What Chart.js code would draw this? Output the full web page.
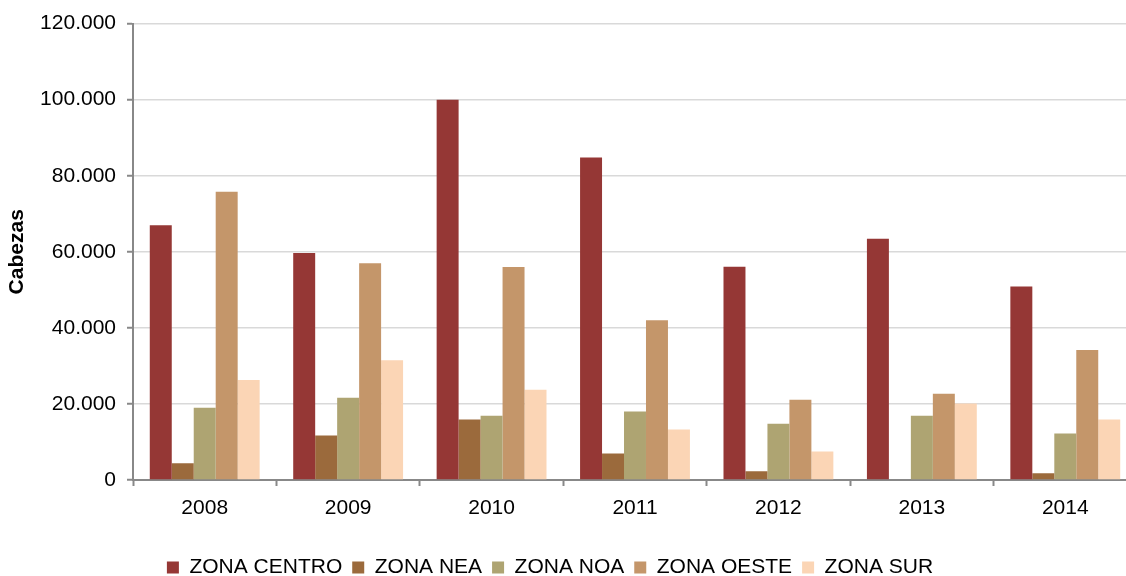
<!DOCTYPE html>
<html lang="es">
<head>
    <meta charset="UTF-8">
    <title>Cabezas por zona</title>
    <script src="https://cdn.jsdelivr.net/npm/chart.js"></script>
    <style>
        html, body { margin: 0; padding: 0; overflow: hidden; background: #fff; }
        #wrap { width: 1150px; height: 576px; }
    </style>
</head>
<body>
<div id="wrap"><canvas id="myChart"></canvas></div>

<script>
    // datos
    const years = ['2008', '2009', '2010', '2011', '2012', '2013', '2014'];
    const zonaCentro = [67000, 59700, 100000, 84800, 56100, 63400, 50900];
    const zonaNea    = [4400, 11700, 15900, 7000, 2300, 0, 1800];
    const zonaNoa    = [19000, 21600, 16900, 18000, 14800, 16900, 12200];
    const zonaOeste  = [75800, 57000, 56000, 42000, 21100, 22700, 34200];
    const zonaSur    = [26300, 31500, 23700, 13300, 7500, 20100, 15900];
    const yTicks = [0, 20000, 40000, 60000, 80000, 100000, 120000];

    const font = 'Liberation Sans, Arial, sans-serif';

    function miles(v) {
        return v.toString().replace(/\B(?=(\d{3})+(?!\d))/g, '.');
    }

    // mueve la leyenda a su sitio
    const legendPos = {
        id: 'legendPos',
        beforeDraw(chart) {
            const l = chart.legend;
            const w = l.right - l.left;
            const h = l.bottom - l.top;
            l.left = 550 - w / 2;
            l.right = l.left + w;
            l.top = 547;
            l.bottom = l.top + h;
        }
    };

    const ctx = document.getElementById('myChart').getContext('2d');

    new Chart(ctx, {
        type: 'bar',
        data: {
            labels: years,
            datasets: [
                { label: 'ZONA CENTRO', data: zonaCentro, backgroundColor: '#953735' },
                { label: 'ZONA NEA', data: zonaNea, backgroundColor: '#9b6a3c' },
                { label: 'ZONA NOA', data: zonaNoa, backgroundColor: '#aea472' },
                { label: 'ZONA OESTE', data: zonaOeste, backgroundColor: '#c4966a' },
                { label: 'ZONA SUR', data: zonaSur, backgroundColor: '#fbd5b5' }
            ]
        },
        options: {
            responsive: true,
            maintainAspectRatio: false,
            animation: false,
            layout: { padding: { top: 21, right: 13, bottom: 0, left: 0 } },
            datasets: { bar: { categoryPercentage: 0.766, barPercentage: 1.0 } },
            plugins: {
                tooltip: { enabled: false },
                legend: {
                    position: 'bottom',
                    labels: {
                        boxWidth: 12,
                        boxHeight: 12,
                        padding: 10,
                        color: '#000',
                        font: { family: font, size: 21 }
                    }
                }
            },
            scales: {
                x: {
                    grid: {
                        offset: true,
                        drawOnChartArea: false,
                        tickLength: 6,
                        tickColor: '#888',
                        tickWidth: 2
                    },
                    border: { color: '#888', width: 2 },
                    ticks: {
                        padding: 10,
                        color: '#000',
                        font: { family: font, size: 21 }
                    },
                    afterFit(scale) { scale.height = 55; }
                },
                y: {
                    min: 0,
                    max: 120000,
                    afterBuildTicks(scale) {
                        scale.ticks = yTicks.map(v => ({ value: v }));
                    },
                    grid: {
                        color: '#d9d9d9',
                        lineWidth: 1.5,
                        tickLength: 6,
                        tickColor: '#888',
                        tickWidth: 2
                    },
                    border: { color: '#888', width: 2 },
                    ticks: {
                        padding: 11,
                        color: '#000',
                        font: { family: font, size: 21 },
                        callback: (v) => miles(v)
                    },
                    title: {
                        display: true,
                        text: 'Cabezas',
                        color: '#000',
                        padding: { top: 5, bottom: 0 },
                        font: { family: font, size: 21, weight: 'bold' }
                    },
                    afterFit(scale) { scale.width = 133; }
                }
            }
        },
        plugins: [legendPos]
    });
</script>
</body>
</html>
